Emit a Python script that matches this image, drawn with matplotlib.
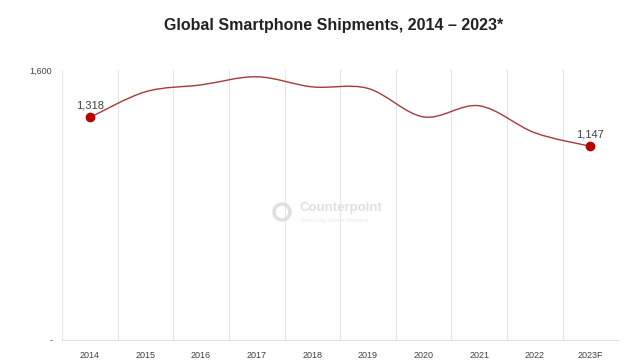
import matplotlib.pyplot as plt
from matplotlib.path import Path
from matplotlib.patches import PathPatch, Circle
import numpy as np

plt.rcParams['font.family'] = ['Liberation Sans', 'DejaVu Sans']

years = ["2014", "2015", "2016", "2017", "2018", "2019", "2020", "2021", "2022", "2023F"]
shipments = [1318, 1470, 1511, 1559, 1499, 1490, 1321, 1387, 1227, 1147]
y_ticks = [0, 1600]
y_tick_labels = ["-", "1,600"]

fig = plt.figure(figsize=(6.4, 3.6), dpi=100)
ax = fig.add_axes([0.097, 0.056, 0.869, 0.75])

x = np.arange(len(years))
y = np.array(shipments, dtype=float)

# smooth line (catmull-rom -> bezier), drawn in data coords
verts = [(x[0], y[0])]
codes = [Path.MOVETO]
for i in range(len(x) - 1):
    p0 = (x[i - 1], y[i - 1]) if i > 0 else (x[i], y[i])
    p1 = (x[i], y[i])
    p2 = (x[i + 1], y[i + 1])
    p3 = (x[i + 2], y[i + 2]) if i + 2 < len(x) else p2
    c1 = (p1[0] + (p2[0] - p0[0]) / 6, p1[1] + (p2[1] - p0[1]) / 6)
    c2 = (p2[0] - (p3[0] - p1[0]) / 6, p2[1] - (p3[1] - p1[1]) / 6)
    verts += [c1, c2, p2]
    codes += [Path.CURVE4] * 3
ax.add_patch(PathPatch(Path(verts, codes), fill=False, ec="#a53a36", lw=1.0, zorder=3))

# end markers + labels
for i in [0, len(x) - 1]:
    ax.plot(x[i], y[i], "o", color="#b80000", ms=6, zorder=4)
    ax.annotate(f"{shipments[i]:,}", (x[i], y[i]), xytext=(0, 5), textcoords="offset points",
                ha="center", va="bottom", fontsize=8, color="#404040")

ax.set_xlim(-0.5, len(years) - 0.5)
ax.set_ylim(0, 1600)
ax.set_xticks(x)
ax.set_xticklabels(years, fontsize=6.5, color="#404040")
ax.set_yticks(y_ticks)
ax.set_yticklabels(y_tick_labels, fontsize=6.5, color="#404040")
ax.tick_params(length=0, pad=8)
ax.tick_params(axis="y", pad=7)

for b in np.arange(-0.5, len(years), 1):
    ax.axvline(b, color="#e6e6e6", lw=0.8, zorder=0)
for s in ["top", "right", "left"]:
    ax.spines[s].set_visible(False)
ax.spines["bottom"].set_color("#e0e0e0")

fig.text(0.522, 0.93, "Global Smartphone Shipments, 2014 \u2013 2023*", ha="center", va="center",
         fontsize=11.5, fontweight="bold", color="#222222")

# watermark
fig.text(300 / 640, 1 - 208 / 360, "Counterpoint", ha="left", va="center", fontsize=9.5,
         fontweight="bold", color="#e0e0e0", zorder=1)
fig.text(300 / 640, 1 - 220 / 360, "Technology Market Research", ha="left", va="center",
         fontsize=3.8, color="#e6e6e6", zorder=1)
fig.patches.append(Circle((2.82, 3.6 - 2.12), 0.08, transform=fig.dpi_scale_trans, fill=False,
                          ec="#e0e0e0", lw=2.5, figure=fig))

fig.savefig("out.png", dpi=100)
